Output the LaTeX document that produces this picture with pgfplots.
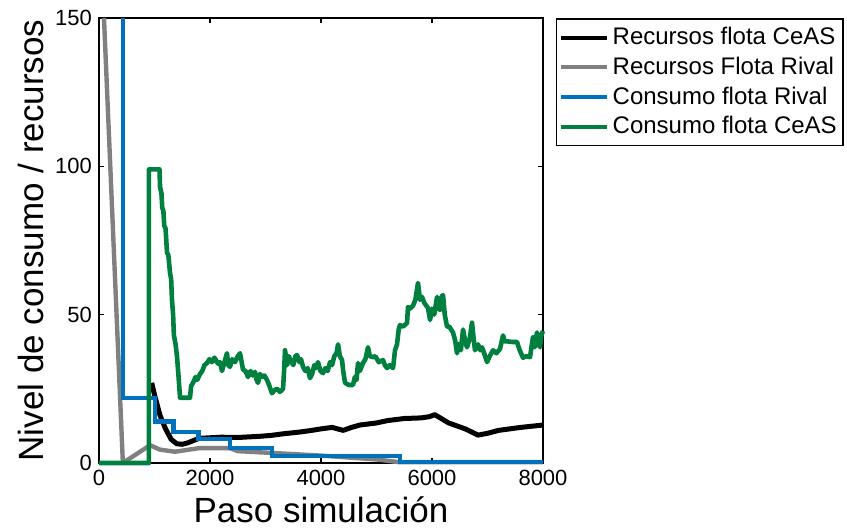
\documentclass[border=0pt]{standalone}
\usepackage{fontspec}
\setmainfont{Liberation Sans}
\usepackage{pgfplots}
\pgfplotsset{compat=1.18}

\definecolor{cgray}{RGB}{128,128,128}
\definecolor{cblue}{RGB}{0,114,189}
\definecolor{cgreen}{RGB}{0,128,62}

\begin{document}
\begin{tikzpicture}
\begin{axis}[
  scale only axis,
  width=222pt, height=222.5pt,
  xmin=0, xmax=8000, ymin=0, ymax=150,
  xtick={0,2000,4000,6000,8000},
  ytick={0,50,100,150},
  scaled x ticks=false,
  /pgf/number format/.cd, 1000 sep={}, assume math mode=true,
  /pgfplots/.cd,
  tick label style={font=\fontsize{11}{13}\selectfont},
  tick align=inside,
  major tick length=2.5pt,
  every tick/.style={black, line width=0.6pt},
  axis line style={line width=0.8pt},
  clip=false,
  xlabel={Paso simulación},
  ylabel={Nivel de consumo / recursos},
  label style={font=\fontsize{17.5}{20}\selectfont},
  xlabel style={at={(axis description cs:0.5,-0.105)}, anchor=center},
  ylabel style={at={(axis description cs:-0.153,0.5)}, anchor=center},
  legend style={at={(axis description cs:1.029,1)}, anchor=north west,
    font=\fontsize{12}{14}\selectfont, draw=black, line width=0.8pt,
    inner xsep=1pt, inner ysep=2.4pt, row sep=0.6pt,
    cells={anchor=west}},
  legend image code/.code={\draw[#1, line width=2pt] (0pt,0pt) -- (23pt,0pt);},
]
% Recursos flota CeAS
\addplot[black, line width=2.5pt, line join=round] coordinates {
 (950,27) (1000,23) (1100,16) (1200,11.5) (1300,8) (1400,6.5) (1500,6.3)
 (1600,6.8) (1800,8.3) (2000,8.5) (2200,8.7) (2500,8.6) (2700,8.8) (2900,9)
 (3100,9.3) (3300,9.8) (3600,10.4) (3800,10.9) (4000,11.5) (4200,12)
 (4400,11) (4550,12) (4700,12.8) (5000,13.5) (5200,14.3) (5500,15)
 (5800,15.2) (5950,15.6) (6050,16.3) (6300,13.5) (6600,11.5) (6830,9.4)
 (7000,10) (7200,11) (7600,12) (8000,12.8)
};
\addlegendentry{Recursos flota CeAS}
% Recursos Flota Rival
\addplot[cgray, line width=2.2pt, line join=round] coordinates {
 (90,150) (430,0) (920,6) (1100,4.5) (1370,3.8) (1800,5) (2360,5) (2500,4)
 (3100,3.4) (4000,2.5) (5000,1.2) (5400,0.3) (8000,0.3)
};
\addlegendentry{Recursos Flota Rival}
% Consumo flota Rival
\addplot[cblue, line width=2.2pt] coordinates {
 (430,150) (430,22) (1010,22) (1010,14) (1340,14) (1340,10.5) (1790,10.5)
 (1790,8) (2360,8) (2360,5) (3120,5) (3120,2.3) (5420,2.3) (5420,0.3) (8000,0.3)
};
\addlegendentry{Consumo flota Rival}
% Consumo flota CeAS
\addplot[cgreen, line width=2.3pt, line join=round] coordinates {
 (0,0) (900,0) (900,99) (1090,99) (1100,93) (1125,91) (1140,86) (1160,85)
 (1175,80) (1200,79) (1225,71) (1250,70) (1280,64) (1300,62) (1315,55)
 (1335,50) (1350,43) (1380,40) (1405,36) (1430,30) (1460,22) (1640,22)
 (1660,26) (1694,27) (1740,29) (1770,28) (1820,30) (1860,31) (1900,33)
 (1946,33.7) (1990,35) (2036,34) (2080,35.5) (2144,33.5) (2180,34)
 (2216,31) (2260,34) (2306,37) (2330,33) (2360,32.4) (2400,35)
 (2451,34) (2500,36) (2541,37) (2570,34) (2595,31.5) (2640,31)
 (2685,29) (2730,31) (2770,29.5) (2811,30.7) (2840,28) (2865,27)
 (2900,30) (2937,29) (2980,29.5) (3027,28) (3070,26) (3117,23.5)
 (3160,24.5) (3207,25) (3260,24) (3316,25) (3335,31) (3352,38)
 (3390,33) (3420,36) (3442,35) (3500,33) (3540,36) (3568,36.4)
 (3610,34) (3640,35) (3676,32.4) (3720,31) (3760,32) (3802,28.6)
 (3840,30) (3880,33) (3910,32) (3946,34) (3990,31) (4036,30.3)
 (4080,32) (4120,31) (4163,34) (4200,33) (4240,36) (4280,37) (4307,40)
 (4340,36) (4379,34.7) (4400,31) (4433,27) (4500,26.3) (4577,26.3)
 (4610,29) (4640,28) (4667,33.7) (4700,31) (4757,33.7) (4800,35)
 (4847,39) (4880,36) (4937,35.7) (4980,36) (5040,34) (5118,34.7)
 (5150,33) (5190,32) (5240,33) (5298,32) (5334,38) (5370,40)
 (5400,45) (5424,46.5) (5480,46) (5550,47.2) (5568,52.6) (5600,52)
 (5658,53) (5700,55) (5748,60.7) (5784,55) (5820,56) (5860,54)
 (5929,52.2) (5965,48.2) (6000,52) (6040,50) (6091,56) (6120,52)
 (6145,51.6) (6170,56) (6199,56.6) (6230,50) (6271,46) (6310,46)
 (6379,44) (6420,41) (6451,37) (6480,40) (6520,38) (6559,45) (6600,41)
 (6631,39) (6680,42) (6721,47.3) (6750,42) (6775,38) (6830,40)
 (6870,38) (6902,39) (6940,37) (6992,34) (7040,36) (7100,38)
 (7160,37) (7226,38.5) (7280,43) (7310,41) (7352,41) (7450,40.8)
 (7532,40.8) (7580,38) (7640,35.5) (7700,36) (7766,35.7) (7800,40)
 (7820,42.5) (7850,39) (7892,44) (7920,41) (7946,39) (7970,43) (8000,44.5)
};
\addlegendentry{Consumo flota CeAS}
\end{axis}
\path (-49.5pt,-34pt) rectangle (374pt,231.5pt);
\end{tikzpicture}
\end{document}
